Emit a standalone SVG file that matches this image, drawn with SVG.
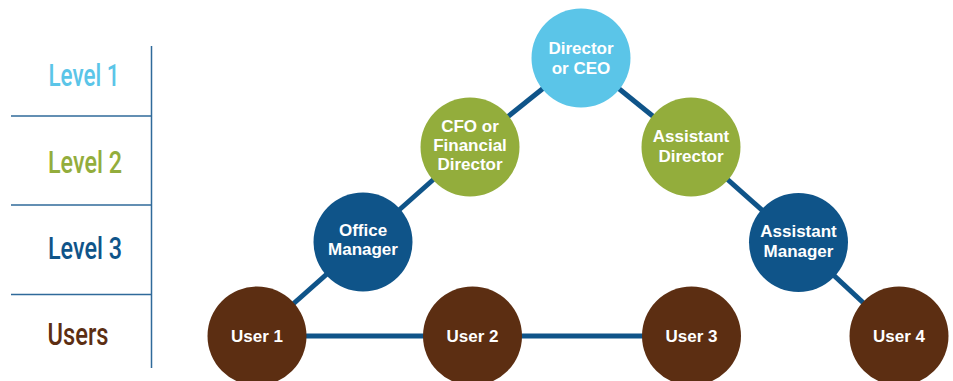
<svg xmlns="http://www.w3.org/2000/svg" width="953" height="381" viewBox="0 0 953 381">
<style>
.lvl{font-family:Roboto,"Liberation Sans",sans-serif;font-weight:500;font-size:31px;text-anchor:middle}
.nt{font-family:"Liberation Sans",Arial,sans-serif;font-weight:bold;font-size:17px;fill:#ffffff;text-anchor:middle}
.edge{stroke:#0f5489;stroke-width:5;fill:none}
.grid{stroke:#2f6a9a;stroke-width:1.5;fill:none}
.c1{fill:#5bc5e8}.c2{fill:#93ad3c}.c3{fill:#0f5489}.c4{fill:#5c2e12}
</style>
<rect width="953" height="381" fill="#ffffff"/>
<g id="levels">
<line class="grid" x1="151.5" y1="46" x2="151.5" y2="368"/>
<line class="grid" x1="11" y1="116" x2="151.5" y2="116"/>
<line class="grid" x1="11" y1="205" x2="151.5" y2="205"/>
<line class="grid" x1="11" y1="294.5" x2="151.5" y2="294.5"/>
<text class="lvl" x="84" y="86" fill="#5bc5e8" textLength="71" lengthAdjust="spacingAndGlyphs">Level 1</text>
<text class="lvl" x="85" y="173" fill="#93ad3c" textLength="74" lengthAdjust="spacingAndGlyphs">Level 2</text>
<text class="lvl" x="85" y="259" fill="#0f5489" textLength="74" lengthAdjust="spacingAndGlyphs">Level 3</text>
<text class="lvl" x="78" y="345" fill="#5c2e12" textLength="61" lengthAdjust="spacingAndGlyphs">Users</text>
</g>
<g id="connectors">
<line class="edge" x1="581" y1="58" x2="470" y2="147"/>
<line class="edge" x1="581" y1="58" x2="691" y2="147"/>
<line class="edge" x1="470" y1="147" x2="363" y2="242"/>
<line class="edge" x1="363" y1="242" x2="257" y2="336"/>
<line class="edge" x1="691" y1="147" x2="798.5" y2="242.5"/>
<line class="edge" x1="798.5" y1="242.5" x2="899" y2="336"/>
<line class="edge" x1="257" y1="336" x2="691.5" y2="336"/>
</g>
<g id="director">
<circle class="c1" cx="581" cy="58" r="49.5"/>
<text class="nt" x="581" y="54">Director</text>
<text class="nt" x="581" y="74">or CEO</text>
</g>
<g id="cfo">
<circle class="c2" cx="470" cy="147" r="49.5"/>
<text class="nt" x="470" y="132">CFO or</text>
<text class="nt" x="470" y="151">Financial</text>
<text class="nt" x="470" y="170">Director</text>
</g>
<g id="assistant-director">
<circle class="c2" cx="691" cy="147" r="49.5"/>
<text class="nt" x="691" y="142">Assistant</text>
<text class="nt" x="691" y="162">Director</text>
</g>
<g id="office-manager">
<circle class="c3" cx="363" cy="242" r="49.5"/>
<text class="nt" x="363" y="236">Office</text>
<text class="nt" x="363" y="255">Manager</text>
</g>
<g id="assistant-manager">
<circle class="c3" cx="798.5" cy="242.5" r="49.5"/>
<text class="nt" x="798.5" y="237">Assistant</text>
<text class="nt" x="798.5" y="257">Manager</text>
</g>
<g id="user1">
<circle class="c4" cx="257" cy="336" r="49.5"/>
<text class="nt" x="257" y="342">User 1</text>
</g>
<g id="user2">
<circle class="c4" cx="472.5" cy="336" r="49.5"/>
<text class="nt" x="472.5" y="342">User 2</text>
</g>
<g id="user3">
<circle class="c4" cx="691.5" cy="336" r="49.5"/>
<text class="nt" x="691.5" y="342">User 3</text>
</g>
<g id="user4">
<circle class="c4" cx="899" cy="336" r="49.5"/>
<text class="nt" x="899" y="342">User 4</text>
</g>
</svg>
